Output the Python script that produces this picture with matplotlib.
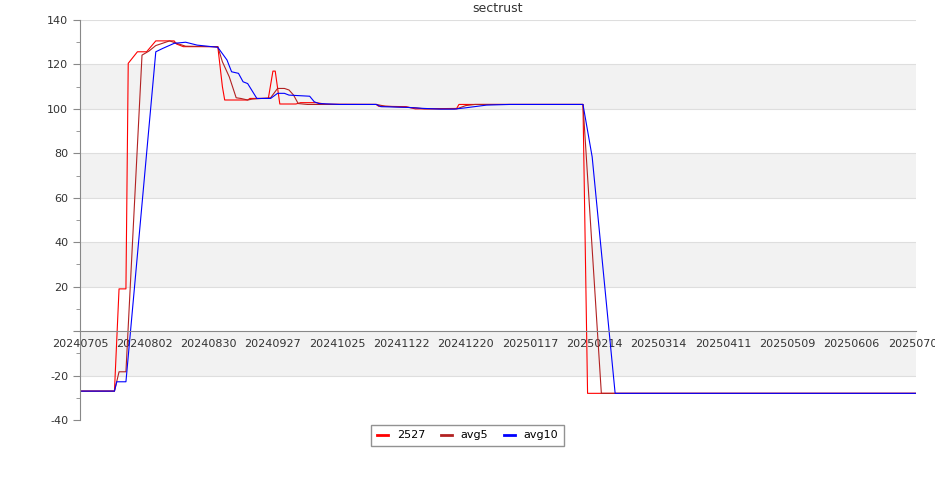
import matplotlib.pyplot as plt
import matplotlib.dates as mdates
from matplotlib.ticker import FixedLocator, FuncFormatter
import pandas as pd

title = "sectrust"

d_2527 = ["2024-07-05", "2024-07-20", "2024-07-22", "2024-07-25", "2024-07-26", "2024-07-30",
          "2024-08-03", "2024-08-07", "2024-08-15", "2024-08-16", "2024-08-19", "2024-09-03",
          "2024-09-05", "2024-09-06", "2024-09-16", "2024-09-17", "2024-09-25", "2024-09-27",
          "2024-09-28", "2024-09-30", "2024-10-07", "2024-10-09", "2024-10-16", "2024-10-20",
          "2024-11-11", "2024-11-12", "2024-11-24", "2024-11-28", "2024-12-16", "2024-12-17",
          "2025-02-09", "2025-02-11", "2025-07-04"]
v_2527 = [-27, -27, 19, 19, 120.5, 125.7,
          125.7, 130.6, 130.6, 129.2, 128, 128,
          110, 104, 104, 104.7, 104.7, 117,
          117, 102.2, 102.2, 102.8, 102.8, 102.1,
          102, 101.2, 101, 100, 100.2, 102,
          102, -28, -28]

d_avg5 = ["2024-07-05", "2024-07-20", "2024-07-22", "2024-07-25", "2024-08-01", "2024-08-04",
          "2024-08-07", "2024-08-13", "2024-08-17", "2024-08-20", "2024-09-03", "2024-09-05",
          "2024-09-08", "2024-09-11", "2024-09-13", "2024-09-16", "2024-09-18", "2024-09-26",
          "2024-09-29", "2024-10-02", "2024-10-04", "2024-10-06", "2024-10-08", "2024-10-12",
          "2024-11-11", "2024-11-15", "2024-11-28", "2024-12-02", "2024-12-16", "2024-12-20",
          "2024-12-24", "2025-02-09", "2025-02-17", "2025-07-04"]
v_avg5 = [-27, -27, -18.3, -18.3, 124.2, 126,
          128.5, 130.6, 129.2, 128.2, 128, 121.2,
          114.4, 105, 104.7, 104, 104.4, 105,
          109.2, 109.2, 108.5, 106.2, 102.4, 102,
          102, 101.2, 100.5, 100, 100, 101.5,
          102, 102, -28, -28]

d_avg10 = ["2024-07-05", "2024-07-20", "2024-07-21", "2024-07-25", "2024-08-07", "2024-08-10",
           "2024-08-15", "2024-08-20", "2024-08-25", "2024-09-03", "2024-09-07", "2024-09-09",
           "2024-09-12", "2024-09-14", "2024-09-16", "2024-09-20", "2024-09-26", "2024-09-29",
           "2024-10-02", "2024-10-04", "2024-10-13", "2024-10-15", "2024-10-17", "2024-10-26",
           "2024-11-11", "2024-11-13", "2024-11-24", "2024-12-02", "2024-12-09", "2024-12-15",
           "2024-12-20", "2024-12-29", "2025-01-08", "2025-02-09", "2025-02-13", "2025-02-23",
           "2025-07-04"]
v_avg10 = [-27, -27, -22.8, -22.8, 125.7, 127.2,
           129.5, 130, 128.7, 127.7, 122, 116.7,
           116, 112.2, 111.4, 104.7, 104.7, 107,
           107, 106.2, 105.7, 103.2, 102.4, 102,
           102, 101, 100.7, 100.2, 99.9, 99.9,
           100.5, 101.7, 102, 102, 78.4, -28,
           -28]

x_ticks = ["2024-07-05", "2024-08-02", "2024-08-30", "2024-09-27", "2024-10-25", "2024-11-22",
           "2024-12-20", "2025-01-17", "2025-02-14", "2025-03-14", "2025-04-11", "2025-05-09",
           "2025-06-06", "2025-07-04"]

fig = plt.figure(figsize=(9.35, 5), dpi=100)
ax = fig.add_axes([80 / 935, 80 / 500, 836 / 935, 400 / 500])

ax.set_xlim(pd.Timestamp("2024-07-05"), pd.Timestamp("2025-07-04"))
ax.set_ylim(-40, 140)

# alternating bands + grid
for lo in [100, 60, 20, -20]:
    ax.axhspan(lo, lo + 20, color="#f2f2f2", lw=0, zorder=0)
for y in range(-20, 141, 20):
    if y != 0:
        ax.axhline(y, color="#dedede", lw=0.8, zorder=0.5)

ax.plot(pd.to_datetime(d_2527), v_2527, color="#ff0000", lw=0.8, label="2527")
ax.plot(pd.to_datetime(d_avg5), v_avg5, color="#b22222", lw=0.8, label="avg5")
ax.plot(pd.to_datetime(d_avg10), v_avg10, color="#0000ff", lw=0.8, label="avg10")

for s in ["top", "right"]:
    ax.spines[s].set_visible(False)
ax.spines["left"].set_color("#888888")
ax.spines["bottom"].set_color("#888888")
ax.spines["bottom"].set_position(("data", 0))

ax.yaxis.set_major_locator(FixedLocator(range(-40, 141, 20)))
ax.yaxis.set_minor_locator(FixedLocator(range(-30, 140, 20)))
ax.yaxis.set_major_formatter(FuncFormatter(lambda v, p: "" if v == 0 else f"{v:.0f}"))
ax.tick_params(axis="y", which="major", length=5, color="#888888", labelsize=8, labelcolor="#333333")
ax.tick_params(axis="y", which="minor", length=3, color="#888888")

ax.set_xticks(pd.to_datetime(x_ticks))
ax.xaxis.set_major_formatter(mdates.DateFormatter("%Y%m%d"))
ax.tick_params(axis="x", length=0, pad=6, labelsize=8, labelcolor="#333333")

ax.set_title(title, fontsize=9, color="#333333", pad=6)

leg = fig.legend(loc="lower center", bbox_to_anchor=(0.5, 0.108), ncol=3, fontsize=8,
                 frameon=True, fancybox=False, edgecolor="#777777", handlelength=1.0,
                 handletextpad=0.8, columnspacing=1.4, borderpad=0.5, borderaxespad=0)
for h in leg.get_lines():
    h.set_linewidth(2)

fig.savefig("out.png", dpi=100)
